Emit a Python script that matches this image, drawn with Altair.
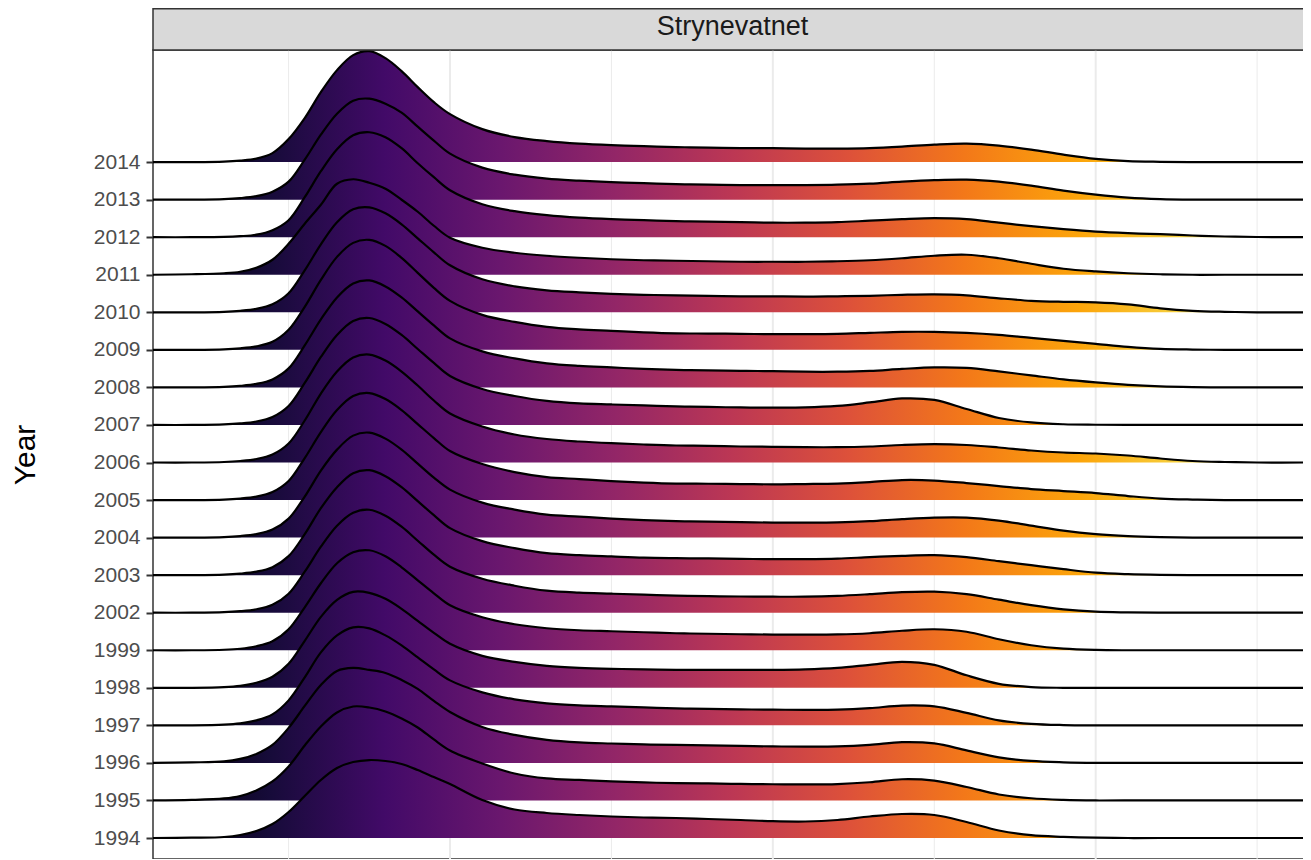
import altair as alt
import pandas as pd

PANEL = "Strynevatnet"
YEARS = [1994, 1995, 1996, 1997, 1998, 1999, 2002, 2003, 2004, 2005, 2006,
         2007, 2008, 2009, 2010, 2011, 2012, 2013, 2014]

X_GRID = [8, 20, 30, 35, 40, 45, 50, 55, 60, 65, 70, 75, 80, 85, 90, 95, 100,
          110, 120, 130, 140, 150, 160, 170, 180, 190, 200, 210, 220, 230, 240,
          250, 260, 270, 280, 290, 300, 310, 320, 330, 340, 350, 367]

# ridge heights (relative density, arbitrary units) per year
DENS = {
    2014: [0, 0, 0.5, 1.5, 3.5, 9, 23, 44, 70, 92, 107, 111, 104, 91, 75, 60, 48, 33, 25, 21, 18.5, 17, 16, 15, 14.5,
           14, 14, 13.5, 13.5, 14, 15.5, 17.5, 18.5, 16.5, 12.5, 7.5, 3.3, 1, 0.3, 0, 0, 0, 0],
    2013: [0, 0, 0.5, 1.5, 3.5, 8, 18, 40, 65, 86, 99, 101, 96, 87, 73, 59, 46, 32, 25, 21, 19, 17.5, 16.5, 15.5, 15,
           14.5, 14.5, 14.5, 15, 16, 18, 19.5, 20, 18, 14, 9, 5, 2, 0.5, 0, 0, 0, 0],
    2012: [0, 0, 0.3, 1, 2.5, 7, 17, 40, 66, 88, 102, 105, 100, 89, 74, 60, 47, 33, 26, 22, 19.5, 18, 17, 16, 15.5,
           15, 14.5, 14.5, 15, 16.5, 18, 19, 18, 14.5, 11, 8, 5.5, 4, 3, 1.7, 0.7, 0.2, 0],
    2011: [0, 0.5, 1.5, 3, 7, 15, 31, 51, 70, 91, 95.5, 92, 86, 75, 63, 49, 37, 27, 22, 19, 17, 15.5, 14.5, 14, 13.5,
           13, 13, 13, 13.5, 14.5, 16.5, 19, 20, 16.5, 11, 6, 3.3, 1.5, 0.5, 0, 0, 0, 0],
    2010: [0, 0, 0.5, 1.5, 3.5, 8, 19, 42, 68, 90, 103, 105, 99, 88, 74, 60, 47, 33, 26, 22, 20, 18.5, 17.5, 17, 16.5,
           16, 16, 15.7, 16, 16.5, 17.5, 18, 17, 14, 11.5, 10.5, 10, 8, 4, 1.5, 0.5, 0, 0],
    2009: [0, 0, 0.5, 1.5, 3.5, 8, 20, 43, 70, 93, 107, 110, 104, 92, 77, 62, 49, 35, 28, 23, 20.5, 19, 17.5, 16.5, 16.3,
           16, 15.7, 15.7, 16, 17, 18, 18, 17, 15, 12, 9, 6, 3, 1, 0.3, 0, 0, 0],
    2008: [0, 0, 0.5, 1.5, 3.5, 8, 19, 42, 68, 90, 104, 107, 101, 90, 76, 62, 49, 36, 29, 24, 21.5, 20, 18.5, 17.5, 17,
           16.5, 16.3, 15.7, 15.7, 16.5, 18.5, 20, 19.5, 16, 12, 8, 5, 2.5, 1, 0.3, 0, 0, 0],
    2007: [0, 0, 0.5, 1.5, 3.5, 8, 19, 42, 68, 90, 104, 107, 101, 90, 76, 62, 49, 36, 29, 24, 21.5, 20.5, 19.5, 18.5, 18,
           17.5, 17.3, 17.5, 19, 22.5, 26.5, 25, 16, 7, 2.5, 0.7, 0.2, 0, 0, 0, 0, 0, 0],
    2006: [0, 0, 0.5, 1.5, 3.5, 8, 19, 42, 69, 91, 105, 108, 102, 91, 77, 62, 49, 36, 28, 23.5, 21, 19.3, 18, 17, 16.7,
           16, 15.7, 15.3, 15.3, 16, 17.5, 18.3, 17.5, 15, 12, 10, 9, 7, 4, 1.5, 0.5, 0, 0],
    2005: [0, 0, 0.5, 1.5, 3.5, 8, 19, 42, 68, 90, 104, 107, 101, 90, 76, 62, 49, 36, 28, 23, 21, 19, 17.5, 16.5, 16.3,
           16, 15.7, 16, 16.5, 18, 20, 19.5, 17, 14, 11, 9, 7, 4, 1.5, 0.5, 0, 0, 0],
    2004: [0, 0, 0.5, 1.5, 3.5, 8, 19, 41, 67, 88, 102, 105, 99, 88, 74, 60, 48, 35, 28, 23, 21, 19, 17.5, 16.5, 16,
           15.5, 15, 15, 15.3, 16.5, 18.5, 20, 20, 17, 12, 7, 3.5, 1.5, 0.5, 0, 0, 0, 0],
    2003: [0, 0, 0.5, 1.5, 3.5, 8, 19, 41, 67, 88, 102, 105, 99, 88, 74, 60, 47, 34, 27, 22, 20, 18.7, 17.5, 17, 16.7,
           16.3, 16, 16, 16.5, 18, 19.3, 20, 18, 14, 10, 6, 2.5, 1, 0.3, 0, 0, 0, 0],
    2002: [0, 0, 0.5, 1.5, 3.5, 8, 19, 41, 66, 87, 100, 103, 97, 86, 72, 58, 46, 34, 27, 22, 20, 19, 18, 17, 16.5,
           16.2, 16, 16, 16.8, 18.5, 20.5, 21, 18.5, 13, 7.5, 3.3, 1, 0.3, 0, 0, 0, 0, 0],
    1999: [0, 0, 0.5, 1.5, 4, 9, 21, 43, 67, 87, 98, 100, 94, 83, 70, 57, 45, 33, 26, 22, 20, 19, 18, 17, 16.5,
           16, 15.7, 15.6, 15.8, 17, 19.5, 21, 18.5, 11, 5, 1.6, 0.3, 0, 0, 0, 0, 0, 0],
    1998: [0, 0, 0.7, 2, 5, 11, 24, 47, 71, 88, 96, 95, 89, 79, 67, 55, 44, 32, 26, 22, 20, 19, 18.5, 18, 18,
           18, 18, 18.5, 20, 23, 26, 23, 12.5, 4, 0.7, 0, 0, 0, 0, 0, 0, 0, 0],
    1997: [0, 0, 0.7, 2, 5, 11, 25, 48, 73, 90, 98, 97, 90, 80, 68, 56, 45, 33, 26, 22, 20, 19, 18, 17, 16.5,
           16, 15.7, 15.5, 15.7, 17.2, 19.8, 19, 12.5, 5, 1.5, 0.3, 0, 0, 0, 0, 0, 0, 0],
    1996: [0, 0.5, 1.5, 4, 9, 18, 35, 57, 78, 92, 95, 93, 90, 83, 74, 62, 51, 36, 28, 23, 20.5, 19.4, 18.5, 18, 17.5,
           17, 16.5, 16.3, 16.5, 18, 20.8, 19.5, 12.5, 5.5, 2, 0.6, 0, 0, 0, 0, 0, 0, 0],
    1995: [0, 0.5, 2, 4.5, 10, 19, 34, 55, 74, 88, 94, 93, 89, 82, 73, 61, 50, 37, 27, 22, 20.5, 19, 18, 17.3, 17,
           16.5, 16.2, 16, 16.4, 18.2, 21.2, 19.8, 13.5, 6, 2.2, 0.6, 0, 0, 0, 0, 0, 0, 0],
    1994: [0, 0.3, 1, 3, 7, 14, 26, 42, 58, 70, 76, 78, 77, 74, 68, 61, 54, 38, 28.5, 25, 23, 21.5, 20.5, 20, 19,
           18, 16.8, 16.5, 18, 21.5, 24, 23, 16, 7.5, 2.8, 1.2, 0.3, 0, 0, 0, 0, 0, 0],
}

MAJOR_X = [100, 200, 300]
MINOR_X = [50, 150, 250, 350]
X_DOMAIN = [8, 367]

INFERNO = ["#000004", "#160B39", "#420A68", "#6A176E", "#932667", "#BC3754",
           "#DD513A", "#F37819", "#FCA50A", "#F6D746", "#FCFFA4"]

RIDGE_SCALE = 37.56  # density units per row step
W, H = 1159, 809

rows = []
for i, yr in enumerate(YEARS):
    d = DENS[yr]
    assert len(d) == len(X_GRID), (yr, len(d))
    for xv, dv in zip(X_GRID, d):
        rows.append({"year": str(yr), "x": xv, "base": i, "top": i + dv / RIDGE_SCALE})
df = pd.DataFrame(rows)

top_val = len(YEARS) - 1 + max(DENS[YEARS[-1]]) / RIDGE_SCALE
y_scale = alt.Scale(domain=[-0.559, top_val + 0.03], nice=False, zero=False)
x_scale = alt.Scale(domain=X_DOMAIN, nice=False, zero=False)

label_expr = "[" + ",".join("'%d'" % y for y in YEARS) + "][datum.value]"
y_axis = alt.Axis(
    values=list(range(len(YEARS))), labelExpr=label_expr, title="Year",
    titleFontSize=30, titleFont="Liberation Sans", titleFontWeight="normal",
    titleColor="#000000", titleX=-128, titleY=H / 2, titleBaseline="middle",
    labelFontSize=21, labelFont="Liberation Sans", labelColor="#4d4d4d",
    labelPadding=6, tickSize=7, tickWidth=2, tickColor="#333333",
    domain=False, grid=False,
)

x_enc = alt.X("x:Q", scale=x_scale, axis=None)

grad = alt.LinearGradient(
    gradient="linear",
    stops=[alt.GradientStop(offset=k / (len(INFERNO) - 1), color=c) for k, c in enumerate(INFERNO)],
    x1=0, x2=1, y1=0, y2=0,
)

layers = []
layers.append(
    alt.Chart(pd.DataFrame({"x": MINOR_X})).mark_rule(color="#ebebeb", strokeWidth=1)
    .encode(x=x_enc)
)
layers.append(
    alt.Chart(pd.DataFrame({"x": MAJOR_X})).mark_rule(color="#ebebeb", strokeWidth=2)
    .encode(x=x_enc)
)

for yr in reversed(YEARS):
    base = alt.Chart(df).transform_filter(alt.datum.year == str(yr))
    layers.append(
        base.mark_area(color=grad, interpolate="catmull-rom", opacity=1)
        .encode(x=x_enc, y=alt.Y("top:Q", scale=y_scale, axis=y_axis), y2="base:Q")
    )
    layers.append(
        base.mark_line(color="#000000", strokeWidth=2.2, interpolate="catmull-rom")
        .encode(x=x_enc, y=alt.Y("top:Q", scale=y_scale, axis=y_axis))
    )

strip_df = pd.DataFrame({"panel": [PANEL]})
layers.append(
    alt.Chart(strip_df).mark_rect(fill="#d9d9d9", stroke="#333333", strokeWidth=1.5)
    .encode(x=alt.value(0), x2=alt.value(W + 2), y=alt.value(-41.2), y2=alt.value(0))
)
layers.append(
    alt.Chart(strip_df).mark_text(fontSize=27, font="Liberation Sans", color="#1a1a1a", baseline="middle")
    .encode(x=alt.value(W / 2), y=alt.value(-23), text="panel:N")
)

# total svg width kept at 1295 px so the page never rescales it; the panel's
# right end runs past the picture edge, as in the cropped reference
chart = (
    alt.layer(*layers)
    .properties(width=W, height=H, padding={"left": 145, "top": 42, "right": -9, "bottom": 0},
                autosize=alt.AutoSizeParams(type="none"), background="white")
    .configure_view(stroke="#333333", strokeWidth=1.5)
)

chart.save("out.html", embed_options={"renderer": "svg", "actions": False})
